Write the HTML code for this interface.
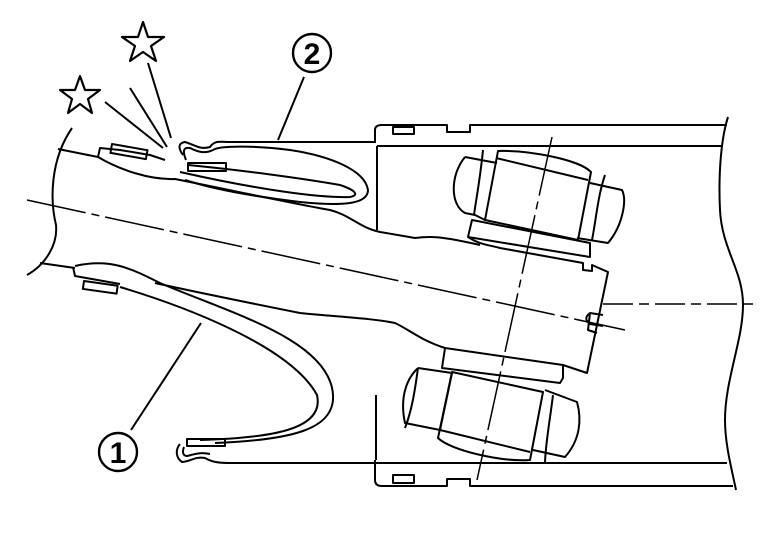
<!DOCTYPE html>
<html><head><meta charset="utf-8"><style>html,body{margin:0;padding:0;background:#fff}svg{display:block}</style></head><body>
<svg width="768" height="544" viewBox="0 0 768 544" xmlns="http://www.w3.org/2000/svg" fill="none" stroke="#000" stroke-width="2" stroke-linejoin="round">
<!-- stars -->
<polygon points="143,22 148,37 164,37 151,46 156,61 143,52 130,61 135,46 122,37 138,37" stroke-width="2.2"/>
<polygon points="80,76 85,90 100,90 88,99 92,113 80,104 68,113 72,99 60,90 75,90" stroke-width="2.2"/>
<line x1="148" y1="63" x2="171" y2="138"/>
<line x1="130" y1="88" x2="167" y2="147"/>
<line x1="105" y1="102" x2="163" y2="148"/>
<!-- circled numbers -->
<circle cx="312" cy="53" r="19" stroke-width="2.4"/>
<text x="312" y="64" font-family="Liberation Sans, sans-serif" font-size="30" font-weight="bold" fill="#000" stroke="none" text-anchor="middle">2</text>
<line x1="304" y1="77" x2="278" y2="140"/>
<circle cx="118" cy="452" r="19" stroke-width="2.4"/>
<text x="118" y="463" font-family="Liberation Sans, sans-serif" font-size="30" font-weight="bold" fill="#000" stroke="none" text-anchor="middle">1</text>
<line x1="131" y1="430" x2="201" y2="323"/>
<!-- left break -->
<path d="M72,128 C50,160 50,200 56,225 C58,245 45,265 27,275"/>
<!-- shaft -->
<path d="M58,149 L98,157 C120,170 150,180 175,179 C230,190 300,205 330,210 C350,215 360,228 380,232 L415,238 C430,236 440,236 480,245"/>
<path d="M40,263 L75,268"/>
<path d="M155,283 C200,293 260,305 300,313 C340,317 370,318 395,323 C410,330 420,340 445,348"/>
<!-- centre lines -->
<path d="M27,200 L625,330" stroke-width="1.5" stroke-dasharray="60,6,8,6"/>
<path d="M603,304 L758,304" stroke-width="1.5" stroke-dasharray="30,6,10,6"/>
<path d="M552,137 L477,480" stroke-width="1.5" stroke-dasharray="60,6,8,6"/>
<!-- upper boot -->
<path d="M98,157 L100,148 L120,150 L150,155 L165,160"/>
<rect x="112" y="144" width="36" height="9" transform="rotate(10 112 144)"/>
<path d="M183,155 C178,148 178,143 185,142 C195,145 200,150 210,147 C215,140 220,142 230,142 L375,142"/>
<path d="M186,160 C182,150 184,147 190,148 C198,152 205,154 213,150 C220,145 260,146 290,150 C330,156 365,170 368,190 C368,205 340,206 300,202 C250,196 210,188 185,180"/>
<path d="M188,165 C240,170 300,178 340,185 C355,190 360,195 350,197 C320,198 260,190 180,172"/>
<rect x="188" y="163" width="38" height="8"/>
<!-- lower boot -->
<path d="M73,267 L75,276 L120,284"/>
<rect x="84" y="281" width="34" height="8" transform="rotate(8 84 281)"/>
<path d="M75,266 C110,258 130,268 160,283 C230,313 330,340 333,395 C335,430 290,440 215,443"/>
<path d="M120,287 C180,305 290,345 317,395 C325,430 270,438 200,440"/>
<rect x="187" y="439" width="38" height="7"/>
<path d="M180,444 C175,450 176,458 182,462 C190,462 195,456 205,458 C212,462 218,463 230,463 L375,463"/>
<path d="M184,447 C182,452 183,456 187,456 C195,454 200,452 210,454"/>
<!-- housing -->
<path d="M375,143 L375,130 Q375,125 382,125 L447,125 L447,132 L470,132 L470,125 L727,125"/>
<path d="M377,146 L721,146"/>
<path d="M377,146 L377,230"/>
<rect x="393" y="127" width="21" height="7"/>
<path d="M375,460 L375,480 Q375,486 382,486 L447,486 L447,479 L470,479 L470,486 L733,486"/>
<path d="M375,463 L727,463"/>
<path d="M376,395 L376,460"/>
<rect x="393" y="475" width="21" height="8"/>
<path d="M728,117 C722,135 718,170 720,210 C722,250 743,270 743,305 C743,340 725,380 725,420 C725,445 732,470 736,490"/>
<!-- upper bearing -->
<path d="M498,151 C530,150 580,160 591,172 L578,240 L485,220 Z"/>
<path d="M496,158 L588,180"/>
<path d="M465,157 L497,163 M485,220 L475,215 L465,213 C450,205 450,175 465,157"/>
<path d="M483,150 C480,180 476,200 474,215"/>
<path d="M590,183 L622,190 C627,200 623,225 608,243 L577,238"/>
<path d="M605,175 C598,195 596,220 592,240"/>
<path d="M472,220 L468,237 L590,257 L590,243 Z"/>
<!-- spider body -->
<path d="M468,237 C480,245 490,245 500,248 L583,263 L583,270 L592,271 L592,265 L608,272 L587,373 L563,365"/>
<path d="M563,365 L563,378 L560,383 L442,368 L445,348 Z"/>
<path d="M603,315 L590,313 C585,317 585,320 590,324 L603,326"/>
<path d="M590,313 L588,330 L597,333"/>
<!-- lower bearing -->
<path d="M452,372 L543,392 L530,460 C500,462 450,450 438,438 Z"/>
<path d="M440,430 L530,452"/>
<path d="M418,368 L452,373 L440,430 L405,423 C400,400 405,380 418,368"/>
<path d="M418,368 C415,390 412,410 405,428"/>
<path d="M545,390 L577,402 C582,420 580,440 565,457 L533,450"/>
<path d="M553,395 C550,420 546,440 545,462"/>
</svg>
</body></html>
